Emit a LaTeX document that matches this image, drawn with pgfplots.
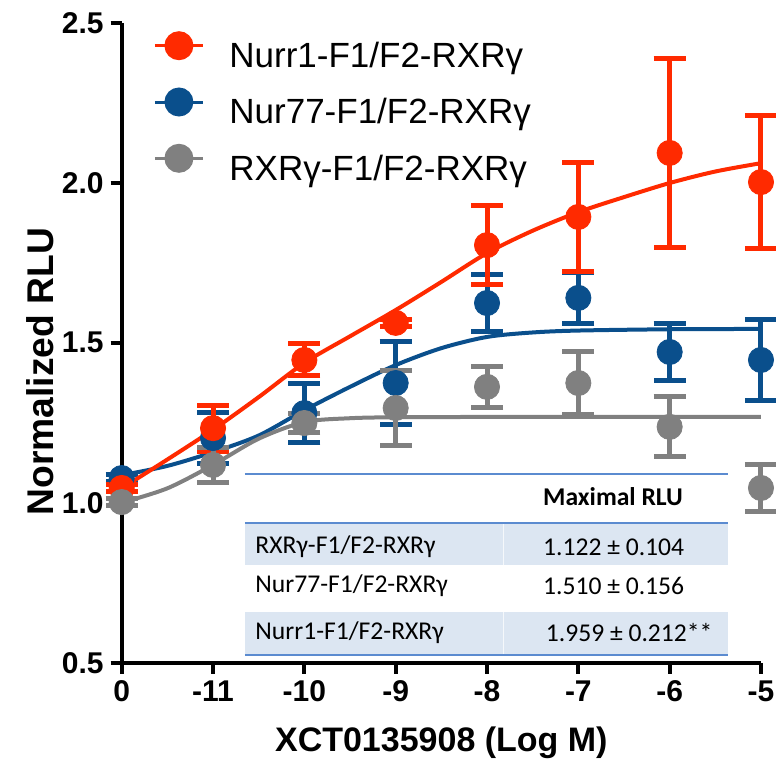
\documentclass[border=0pt]{standalone}
\usepackage{fontspec}
\setmainfont{Liberation Sans}
\newfontfamily\carlito{Carlito}
\usepackage{pgfplots}
\pgfplotsset{compat=1.18}
\definecolor{cred}{HTML}{FF2A00}
\definecolor{cblue}{HTML}{0A4F8C}
\definecolor{cgray}{HTML}{808080}
\definecolor{tshade}{HTML}{DCE6F2}
\definecolor{tline}{HTML}{5B8BD0}
\newcommand{\legfont}{\fontsize{17.5}{20}\selectfont}
\pgfplotsset{
  pts/.style={only marks, mark=*, mark size=6.3pt, color=#1, mark options={fill=#1, draw=#1},
    error bars/.cd, y dir=both, y explicit,
    error bar style={line width=2.5pt, color=#1},
    error mark options={rotate=90, mark size=8pt, line width=2.5pt, color=#1}},
  fit/.style={no marks, smooth, line width=2pt, color=#1},
}
\begin{document}
\begin{tikzpicture}
\path[use as bounding box] (-60.85pt,-49.65pt) rectangle (327.15pt,331.35pt);
\begin{axis}[
  at={(0,0)}, anchor=south west,
  scale only axis, width=319.65pt, height=320pt,
  xmin=0, xmax=7, ymin=0.5, ymax=2.5,
  clip=false,
  axis lines*=left,
  axis line style={line width=2pt, -},
  xtick={0,1,2,3,4,5,6,7},
  xticklabels={0,-11,-10,-9,-8,-7,-6,-5},
  ytick={0.5,1.0,1.5,2.0,2.5},
  tick style={line width=2pt, black},
  tick align=outside, major tick length=5.5pt,
  /pgf/number format/assume math mode=true,
  yticklabel style={/pgf/number format/.cd, fixed, fixed zerofill, precision=1},
  tick label style={font=\fontsize{15}{18}\selectfont\bfseries},
  xlabel={XCT0135908 (Log M)},
  ylabel={Normalized RLU},
  xlabel style={font=\fontsize{17}{20}\selectfont\bfseries, at={(axis description cs:0.5,-0.125)}, anchor=center},
  ylabel style={font=\fontsize{18.6}{20}\selectfont\bfseries, at={(axis description cs:-0.128,0.455)}, anchor=center},
  legend style={at={(0.049,0.985)}, anchor=north west, draw=none, fill=none, inner sep=0pt,
    font=\legfont, row sep=7pt,
    nodes={inner sep=0pt, text height=13pt, text depth=3.7pt},
    /tikz/every odd column/.append style={column sep=12.5pt}},
  legend cell align=left,
  legend image code/.code={\draw[mark repeat=2, mark phase=2, #1] plot coordinates {(0pt,6.3pt) (12pt,6.3pt) (24pt,6.3pt)};},
]
% legend
\addlegendimage{line width=1.5pt, color=cred, mark=*, mark size=6.5pt, mark options={fill=cred}}
\addlegendentry{\legfont Nurr1-F1/F2-RXRγ}
\addlegendimage{line width=1.5pt, color=cblue, mark=*, mark size=6.5pt, mark options={fill=cblue}}
\addlegendentry{\legfont Nur77-F1/F2-RXRγ}
\addlegendimage{line width=1.5pt, color=cgray, mark=*, mark size=6.5pt, mark options={fill=cgray}}
\addlegendentry{\legfont RXRγ-F1/F2-RXRγ}

% table
\fill[tshade] (axis cs:1.35,0.9366) rectangle (axis cs:6.638,0.8053);
\fill[tshade] (axis cs:1.35,0.6584) rectangle (axis cs:6.638,0.5241);
\draw[white!70!tshade, line width=0.4pt] (axis cs:4.175,0.9366) -- (axis cs:4.175,0.8053);
\draw[white!70!tshade, line width=0.4pt] (axis cs:4.175,0.6584) -- (axis cs:4.175,0.5241);
\draw[tline, line width=0.7pt] (axis cs:1.35,1.0897) -- (axis cs:6.638,1.0897);
\draw[tline, line width=0.7pt] (axis cs:1.35,0.9366) -- (axis cs:6.638,0.9366);
\draw[tline, line width=0.9pt] (axis cs:1.35,0.5241) -- (axis cs:6.638,0.5241);
\node[anchor=center, font=\carlito\fontsize{12.8}{15}\selectfont\bfseries] at (axis cs:5.38,1.018) {Maximal RLU};
\node[anchor=west, font=\carlito\fontsize{12.8}{15}\selectfont, inner sep=0pt] at (axis cs:1.46,0.8616) {RXRγ-F1/F2-RXRγ};
\node[anchor=west, font=\carlito\fontsize{12.8}{15}\selectfont, inner sep=0pt] at (axis cs:1.46,0.7397) {Nur77-F1/F2-RXRγ};
\node[anchor=west, font=\carlito\fontsize{12.8}{15}\selectfont, inner sep=0pt] at (axis cs:1.46,0.5928) {Nurr1-F1/F2-RXRγ};
\node[anchor=west, font=\carlito\fontsize{12.8}{15}\selectfont, inner sep=0pt] at (axis cs:4.61,0.8616) {1.122 ± 0.104};
\node[anchor=west, font=\carlito\fontsize{12.8}{15}\selectfont, inner sep=0pt] at (axis cs:4.61,0.7397) {1.510 ± 0.156};
\node[anchor=west, font=\carlito\fontsize{12.8}{15}\selectfont, inner sep=0pt] at (axis cs:4.64,0.5928) {1.959 ± 0.212**};

% Nur77 (blue)
\addplot[forget plot, fit=cblue] coordinates {(0,1.086) (0.5,1.115) (1,1.158) (1.5,1.21) (2,1.289) (2.5,1.362) (3,1.430) (3.5,1.483) (4,1.518) (4.5,1.532) (5,1.538) (6,1.542) (7,1.543)};
\addplot[forget plot, pts=cblue] table[x=x, y=y, y error=e] {
x y e
0 1.077 0.01
1 1.202 0.08
2 1.280 0.092
3 1.374 0.131
4 1.624 0.088
5 1.640 0.08
6 1.471 0.088
7 1.446 0.127
};
% Nurr1 (red)
\addplot[forget plot, fit=cred] coordinates {(0,1.045) (0.5,1.135) (1,1.228) (1.5,1.33) (2,1.437) (2.5,1.52) (3,1.602) (3.5,1.69) (4,1.78) (4.5,1.85) (5,1.908) (5.5,1.955) (6,1.999) (6.5,2.035) (7,2.061)};
\addplot[forget plot, pts=cred] table[x=x, y=y, y error=e] {
x y e
0 1.046 0.01
1 1.233 0.072
2 1.446 0.05
3 1.562 0.01
4 1.805 0.124
5 1.893 0.17
6 2.093 0.294
7 2.002 0.207
};
% RXRg (gray)
\addplot[forget plot, fit=cgray] coordinates {(0,1.0) (0.5,1.045) (1,1.118) (1.5,1.2) (2,1.252) (2.5,1.264) (3,1.267) (4,1.268) (5,1.268) (6,1.268) (7,1.268)};
\addplot[forget plot, pts=cgray] table[x=x, y=y, y error=e] {
x y e
0 1.002 0.01
1 1.118 0.056
2 1.249 0.03
3 1.296 0.118
4 1.362 0.064
5 1.374 0.098
6 1.237 0.094
7 1.046 0.072
};
\end{axis}
\end{tikzpicture}
\end{document}
